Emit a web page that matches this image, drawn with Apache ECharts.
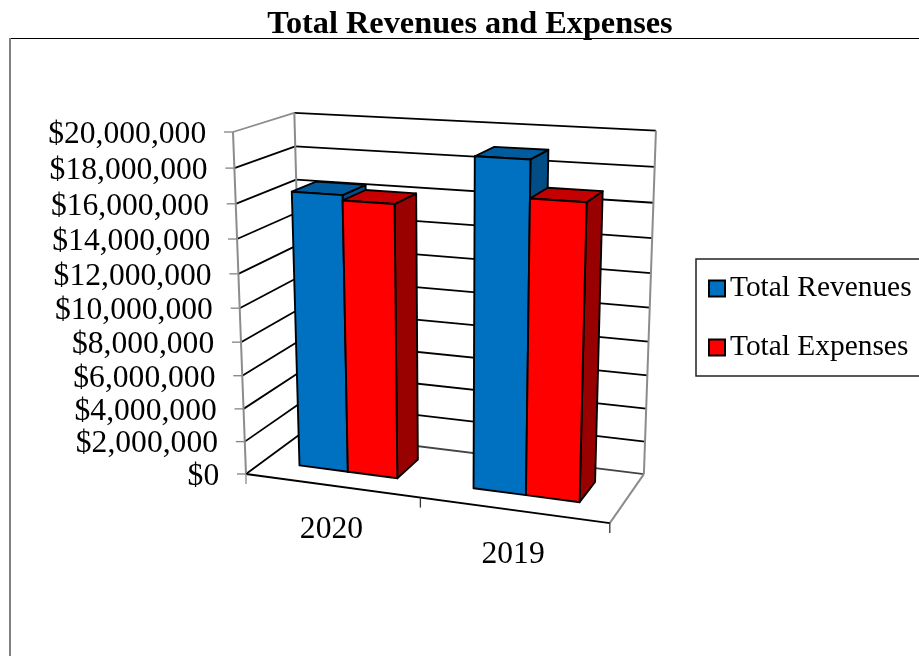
<!DOCTYPE html>
<html>
<head>
<meta charset="utf-8">
<style>html,body{margin:0;padding:0;background:#fff}#chart{width:919px;height:656px}</style>
<script src="https://cdn.jsdelivr.net/npm/echarts@6/dist/echarts.min.js"></script>
</head>
<body>
<div id="chart"></div>
<script>
const categories = ['2020', '2019'];
const totalRevenues = [16400000, 19000000];
const totalExpenses = [16100000, 16900000];
const tickValues = [0, 2000000, 4000000, 6000000, 8000000, 10000000, 12000000, 14000000, 16000000, 18000000, 20000000];
const tickLabels = ['$0', '$2,000,000', '$4,000,000', '$6,000,000', '$8,000,000', '$10,000,000', '$12,000,000', '$14,000,000', '$16,000,000', '$18,000,000', '$20,000,000'];

const SERIF = '"Liberation Serif", "Times New Roman", serif';

// Camera for the 3D plot box: origin corner, the three corners adjacent to it,
// and the vanishing points of its category, value and depth directions.
const ORIGIN = [246, 474];
const CORNER_U = [610, 523.12], CORNER_V = [233, 132], CORNER_W = [303, 432];
const VANISH_U = [-3983, -97], VANISH_V = [453, 5919], VANISH_W = [1061, -126];
const BAR_INSET = 0.107, BAR_WIDTH = 0.143;
const DEPTH_FRONT = 0.30, DEPTH_BACK = 0.72;

const weightOf = (corner, vanish) => (corner[1] - ORIGIN[1]) / (vanish[1] - corner[1]);
const WEIGHT_U = weightOf(CORNER_U, VANISH_U);
const WEIGHT_V = weightOf(CORNER_V, VANISH_V);
const WEIGHT_W = weightOf(CORNER_W, VANISH_W);

// u runs along the category axis, v up the value axis, w into the depth.
function project(u, v, w) {
  const a = WEIGHT_U * u, b = WEIGHT_V * v, c = WEIGHT_W * w;
  const m = 1 + a + b + c;
  return [
    (ORIGIN[0] + a * VANISH_U[0] + b * VANISH_V[0] + c * VANISH_W[0]) / m,
    (ORIGIN[1] + a * VANISH_U[1] + b * VANISH_V[1] + c * VANISH_W[1]) / m
  ];
}

// Fractions along the axes, obtained from the cartesian scales.
function valueFraction(api, params, value) {
  const cs = params.coordSys;
  return (cs.y + cs.height - api.coord([0, value])[1]) / cs.height;
}
function categoryFraction(api, params, index) {
  const cs = params.coordSys;
  return (api.coord([index, 0])[0] - cs.x) / cs.width;
}

const seg = (a, b, stroke, lineWidth) => ({
  type: 'line', silent: true,
  shape: { x1: a[0], y1: a[1], x2: b[0], y2: b[1] },
  style: { stroke, lineWidth, fill: null }
});
const face = (points, fill) => ({
  type: 'polygon',
  shape: { points },
  style: { fill, stroke: '#000', lineWidth: 1.9, lineJoin: 'round' }
});
const label = (x, y, text, size, align) => ({
  type: 'text', silent: true,
  style: { x, y, text, fontFamily: SERIF, fontSize: size, fill: '#000', align, verticalAlign: 'middle' }
});

// Walls and floor: one gridline pair, tick and label per value tick.
function renderValueTick(params, api) {
  const v = valueFraction(api, params, api.value(0));
  const frontLeft = project(0, v, 0), backLeft = project(0, v, 1), backRight = project(1, v, 1);
  const isTop = params.dataIndex === tickValues.length - 1;
  const isBottom = params.dataIndex === 0;
  return {
    type: 'group',
    children: [
      seg(frontLeft, backLeft, isTop ? '#8c8c8c' : '#000', 1.8),
      seg(backLeft, backRight, isBottom ? '#444' : '#000', 1.8),
      seg([frontLeft[0] - 9, frontLeft[1]], frontLeft, '#8c8c8c', 1.4),
      label(frontLeft[0] - 26.8, frontLeft[1] + 2.5, tickLabels[params.dataIndex], 31.6, 'right')
    ]
  };
}

// Box edges and category ticks.
function renderFrame(params, api) {
  return {
    type: 'group',
    children: [
      seg(project(0, 0, 0), project(0, 1, 0), '#8c8c8c', 2),
      seg(project(0, 0, 1), project(0, 1, 1), '#8c8c8c', 2),
      seg(project(1, 0, 1), project(1, 1, 1), '#8c8c8c', 2),
      seg(project(1, 0, 0), project(1, 0, 1), '#8c8c8c', 2),
      seg(project(0, 0, 0), project(1, 0, 0), '#000', 1.9),
      ...[0, 0.5, 1].map((u, i) => {
        const p = project(u, 0, 0);
        return seg(p, [p[0], p[1] + 10], i === 0 ? '#8c8c8c' : '#333', 1.3);
      })
    ]
  };
}

function renderCategoryLabel(params, api) {
  const u = categoryFraction(api, params, api.value(0));
  const p = project(u, 0, 0);
  return label(p[0], p[1] + 44.5, categories[params.dataIndex], 31.6, 'center');
}

// One 3D bar: side, top and front faces.
function barRenderer(slot, colors) {
  return (params, api) => {
    const uc = categoryFraction(api, params, api.value(0));
    const v = valueFraction(api, params, api.value(1));
    const u0 = uc - 0.25 + BAR_INSET + slot * BAR_WIDTH, u1 = u0 + BAR_WIDTH;
    const w0 = DEPTH_FRONT, w1 = DEPTH_BACK;
    return {
      type: 'group',
      children: [
        face([project(u1, 0, w0), project(u1, 0, w1), project(u1, v, w1), project(u1, v, w0)], colors.side),
        face([project(u0, v, w0), project(u1, v, w0), project(u1, v, w1), project(u0, v, w1)], colors.top),
        face([project(u0, 0, w0), project(u1, 0, w0), project(u1, v, w0), project(u0, v, w0)], colors.front)
      ]
    };
  };
}

const BLUE = { front: '#0070C0', top: '#005C9E', side: '#004E85' };
const RED = { front: '#FF0000', top: '#C40000', side: '#990000' };

const chart = echarts.init(document.getElementById('chart'));
chart.setOption({
  animation: false,
  backgroundColor: '#fff',
  title: {
    text: 'Total Revenues and Expenses',
    left: 465, top: 4, textAlign: 'center',
    textStyle: { fontFamily: SERIF, fontSize: 32.3, fontWeight: 'bold', color: '#000' }
  },
  legend: {
    left: 696, top: 259,
    orient: 'vertical',
    data: ['Total Revenues', 'Total Expenses'],
    selectedMode: false,
    padding: [15, 30, 14, 12],
    itemWidth: 16, itemHeight: 16, itemGap: 30,
    icon: 'rect',
    backgroundColor: '#fff',
    borderColor: '#222', borderWidth: 1.5,
    itemStyle: { borderColor: '#000', borderWidth: 2 },
    textStyle: { fontFamily: SERIF, fontSize: 29.4, color: '#000' }
  },
  grid: { left: 100, right: 100, top: 100, bottom: 100, show: false },
  xAxis: { type: 'category', data: categories, show: false },
  yAxis: { type: 'value', min: 0, max: 20000000, interval: 2000000, show: false },
  graphic: [
    { type: 'line', z: -1, shape: { x1: 10, y1: 38.5, x2: 919, y2: 38.5 }, style: { stroke: '#000', lineWidth: 1.2 } },
    { type: 'line', z: -1, shape: { x1: 10, y1: 38, x2: 10, y2: 656 }, style: { stroke: '#808080', lineWidth: 2 } }
  ],
  series: [
    { type: 'custom', name: 'ticks', silent: true, clip: false, renderItem: renderValueTick, data: tickValues.map(v => [v]), encode: { y: 0 } },
    { type: 'custom', name: 'frame', silent: true, clip: false, renderItem: renderFrame, data: [[0]] },
    { type: 'custom', name: 'categoryLabels', silent: true, clip: false, renderItem: renderCategoryLabel, data: categories.map((c, i) => [i]), encode: { x: 0 } },
    {
      type: 'custom', name: 'Total Revenues', clip: false,
      itemStyle: { color: BLUE.front },
      renderItem: barRenderer(0, BLUE),
      data: totalRevenues.map((v, i) => [i, v]), encode: { x: 0, y: 1 }
    },
    {
      type: 'custom', name: 'Total Expenses', clip: false,
      itemStyle: { color: RED.front },
      renderItem: barRenderer(1, RED),
      data: totalExpenses.map((v, i) => [i, v]), encode: { x: 0, y: 1 }
    }
  ]
});
</script>
</body>
</html>
